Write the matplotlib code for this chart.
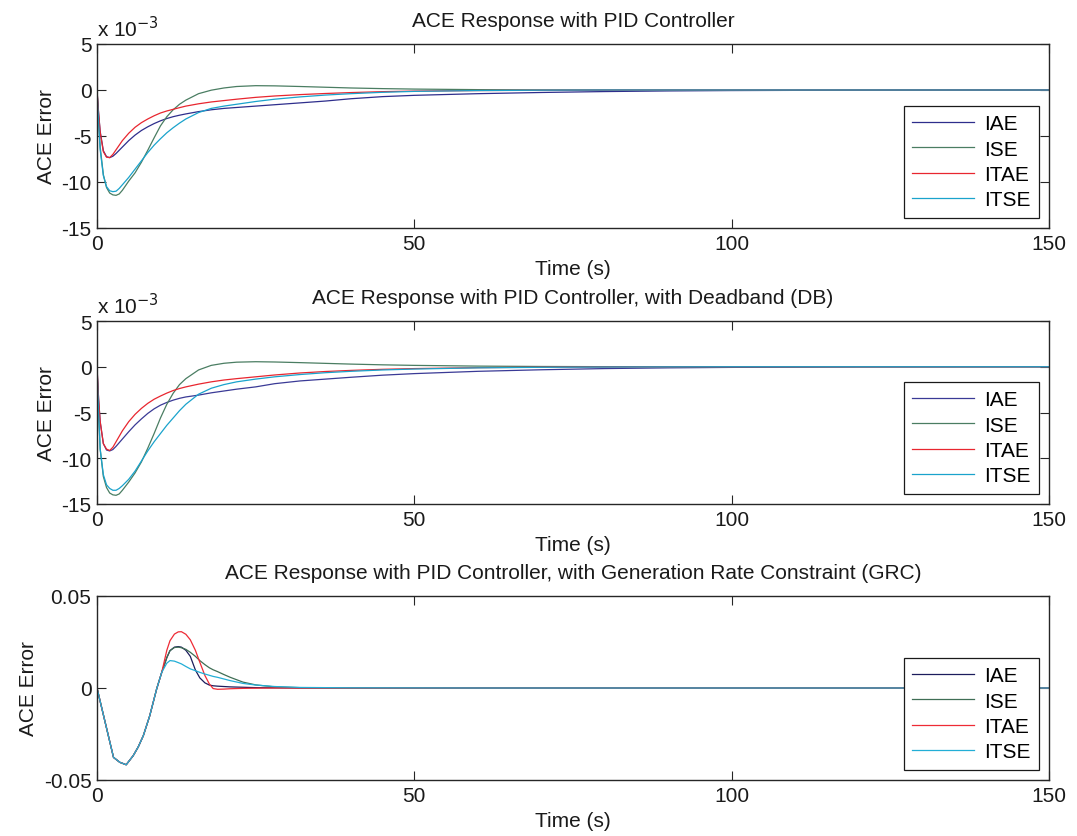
import matplotlib
matplotlib.use("Agg")
import matplotlib.pyplot as plt

plt.rcParams['font.family'] = ['Liberation Sans', 'DejaVu Sans']
plt.rcParams['font.size'] = 15

series_names = ["IAE", "ISE", "ITAE", "ITSE"]
x_ticks = [0, 50, 100, 150]

# ---- Panel 1: PID controller (values in units of 1e-3) ----
t_pid = [0, 0.25, 0.5, 1, 1.5, 2, 2.5, 3, 3.5, 4, 5, 6, 7, 8, 9, 10, 11, 12, 13, 14, 16, 18,
         20, 22, 25, 28, 32, 36, 40, 45, 50, 60, 70, 80, 90, 100, 120, 150]
pid_iae = [0, -2.5, -4.5, -6.6, -7.25, -7.35, -7.2, -6.9, -6.55, -6.2, -5.5, -4.9, -4.4, -4.0,
           -3.65, -3.35, -3.1, -2.9, -2.74, -2.6, -2.35, -2.15, -2.0, -1.9, -1.75, -1.6, -1.4,
           -1.2, -0.95, -0.72, -0.58, -0.4, -0.27, -0.17, -0.1, -0.06, -0.02, 0]
pid_ise = [0, -3.3, -6.2, -9.2, -10.6, -11.2, -11.4, -11.45, -11.3, -10.9, -9.9, -9.0, -7.85,
           -6.55, -5.2, -3.9, -2.9, -2.15, -1.55, -1.1, -0.4, -0.02, 0.22, 0.38, 0.47, 0.45,
           0.38, 0.3, 0.22, 0.15, 0.1, 0.04, 0.01, 0, 0, 0, 0, 0]
pid_itae = [0, -2.5, -4.6, -6.7, -7.3, -7.35, -7.0, -6.5, -6.0, -5.5, -4.7, -4.05, -3.55, -3.15,
            -2.8, -2.5, -2.28, -2.1, -1.92, -1.75, -1.5, -1.3, -1.15, -1.0, -0.8, -0.65, -0.5,
            -0.38, -0.28, -0.18, -0.12, -0.06, -0.03, -0.01, 0, 0, 0, 0]
pid_itse = [0, -3.5, -6.5, -9.3, -10.5, -10.95, -11.05, -11.0, -10.7, -10.3, -9.5, -8.6, -7.7,
            -6.8, -6.0, -5.3, -4.65, -4.1, -3.6, -3.15, -2.45, -2.0, -1.75, -1.55, -1.25, -1.0,
            -0.75, -0.55, -0.4, -0.25, -0.15, -0.06, -0.02, 0, 0, 0, 0, 0]

# ---- Panel 2: PID controller with deadband (values in units of 1e-3) ----
t_db = t_pid
db_iae = [0, -3.5, -6.0, -8.4, -9.1, -9.2, -9.05, -8.7, -8.3, -7.9, -7.1, -6.35, -5.7, -5.1,
          -4.6, -4.2, -3.9, -3.65, -3.45, -3.3, -3.1, -2.85, -2.65, -2.45, -2.2, -1.85, -1.55,
          -1.35, -1.15, -0.92, -0.75, -0.5, -0.33, -0.2, -0.12, -0.07, -0.02, 0]
db_ise = [0, -5.0, -9.0, -12.0, -13.2, -13.8, -14.0, -14.05, -13.9, -13.5, -12.6, -11.6, -10.4,
          -8.9, -7.3, -5.6, -4.1, -2.9, -1.95, -1.3, -0.35, 0.15, 0.38, 0.5, 0.55, 0.52, 0.45,
          0.37, 0.29, 0.21, 0.15, 0.07, 0.03, 0.01, 0, 0, 0, 0]
db_itae = [0, -3.5, -6.0, -8.4, -9.0, -9.15, -8.8, -8.2, -7.6, -7.0, -6.0, -5.2, -4.55, -4.0,
           -3.55, -3.2, -2.88, -2.6, -2.38, -2.2, -1.9, -1.65, -1.45, -1.3, -1.1, -0.9, -0.68,
           -0.52, -0.4, -0.28, -0.2, -0.1, -0.05, -0.02, 0, 0, 0, 0]
db_itse = [0, -5.0, -9.0, -11.8, -12.9, -13.3, -13.5, -13.5, -13.3, -13.0, -12.3, -11.4, -10.3,
           -9.2, -8.2, -7.3, -6.4, -5.6, -4.8, -4.1, -3.0, -2.35, -1.95, -1.65, -1.35, -1.1,
           -0.85, -0.65, -0.5, -0.35, -0.25, -0.12, -0.06, -0.03, -0.01, 0, 0, 0]

# ---- Panel 3: PID controller with generation rate constraint ----
t_grc = [0, 1, 2, 2.6, 3.6, 4.6, 5.7, 6.5, 7.3, 8.3, 9.4, 10.2, 11, 11.5, 12.2, 12.8, 13.3,
         14, 14.7, 15.5, 16.2, 17, 17.7, 18.3, 19, 20, 21, 23, 25, 28, 32, 40, 60, 150]
grc_iae = [0, -0.0145, -0.029, -0.0377, -0.0404, -0.0417, -0.0368, -0.032, -0.0259, -0.0152,
           -0.0005, 0.0085, 0.0165, 0.0203, 0.0222, 0.0225, 0.0222, 0.0205, 0.0172, 0.0098,
           0.0055, 0.0028, 0.0016, 0.0012, 0.001, 0.0008, 0.0006, 0.0004, 0.0002, 0.0001,
           0, 0, 0, 0]
grc_ise = [0, -0.0145, -0.029, -0.0377, -0.0404, -0.0417, -0.0368, -0.032, -0.0259, -0.0152,
           -0.0005, 0.0085, 0.0165, 0.0203, 0.022, 0.0222, 0.0219, 0.021, 0.0194, 0.0172,
           0.0149, 0.0127, 0.011, 0.0099, 0.0089, 0.0073, 0.0058, 0.0032, 0.0017, 0.0006,
           0.0002, 0, 0, 0]
grc_itae = [0, -0.0145, -0.029, -0.0377, -0.0404, -0.0417, -0.0368, -0.032, -0.0259, -0.0152,
            -0.0005, 0.0085, 0.0205, 0.0257, 0.0293, 0.0305, 0.0306, 0.0292, 0.0262, 0.0205,
            0.014, 0.0068, 0.0022, -0.0003, -0.0007, -0.0006, -0.0004, -0.0002, -0.0001, 0,
            0, 0, 0, 0]
grc_itse = [0, -0.0145, -0.029, -0.0377, -0.0404, -0.0417, -0.0368, -0.032, -0.0259, -0.0152,
            -0.0005, 0.0085, 0.0135, 0.0149, 0.0146, 0.0138, 0.0131, 0.0117, 0.0104, 0.0094,
            0.0085, 0.0076, 0.0069, 0.0063, 0.0058, 0.0049, 0.004, 0.0025, 0.0016, 0.0008,
            0.0003, 0.0001, 0, 0]

panels = [
    dict(title="ACE Response with PID Controller", t=t_pid,
         data=[pid_iae, pid_ise, pid_itae, pid_itse],
         colors=["#2e2e8c", "#4a7d62", "#e8262f", "#1aa3cc"],
         ylim=(-15, 5), yticks=[-15, -10, -5, 0, 5], ylabels=["-15", "-10", "-5", "0", "5"],
         scale_text=True),
    dict(title="ACE Response with PID Controller, with Deadband (DB)", t=t_db,
         data=[db_iae, db_ise, db_itae, db_itse],
         colors=["#3a3a96", "#4a7d62", "#e8262f", "#1aa3cc"],
         ylim=(-15, 5), yticks=[-15, -10, -5, 0, 5], ylabels=["-15", "-10", "-5", "0", "5"],
         scale_text=True),
    dict(title="ACE Response with PID Controller, with Generation Rate Constraint (GRC)",
         t=t_grc, data=[grc_iae, grc_ise, grc_itae, grc_itse],
         colors=["#1c1c5c", "#3f6e55", "#ee2b35", "#22aed6"],
         ylim=(-0.05, 0.05), yticks=[-0.05, 0, 0.05], ylabels=["-0.05", "0", "0.05"],
         scale_text=False),
]

fig = plt.figure(figsize=(10.77, 8.37), dpi=100)
W, H = 1077, 837
boxes = [(45, 229), (322, 505), (597, 781)]
left_px, right_px = 97, 1049

for p, (top, bot) in zip(panels, boxes):
    ax = fig.add_axes([left_px / W, 1 - bot / H, (right_px - left_px) / W, (bot - top) / H])
    for name, vals, col in zip(series_names, p["data"], p["colors"]):
        ax.plot(p["t"], vals, color=col, lw=0.9, label=name)
    ax.set_xlim(0, 150)
    ax.set_ylim(*p["ylim"])
    ax.set_xticks(x_ticks)
    ax.set_xticklabels([str(v) for v in x_ticks])
    ax.set_yticks(p["yticks"])
    ax.set_yticklabels(p["ylabels"])
    ax.tick_params(direction="in", length=6.5, width=0.8, top=True, right=True,
                   colors="#262626", labelcolor="#1a1a1a", pad=4)
    for s in ax.spines.values():
        s.set_color("#262626")
        s.set_linewidth(1.0)
    ax.set_title(p["title"], fontsize=15, pad=13, color="#1a1a1a")
    ax.set_xlabel("Time (s)", fontsize=15, labelpad=5, color="#1a1a1a")
    ax.set_ylabel("ACE Error", fontsize=15, color="#1a1a1a")
    if p["scale_text"]:
        ax.text(0.0, 1.02, r"x 10$^{-3}$", transform=ax.transAxes, fontsize=15,
                ha="left", va="bottom", color="#1a1a1a")
    leg = ax.legend(loc="lower right", frameon=True, fancybox=False, framealpha=1,
                    edgecolor="#1a1a1a", fontsize=15, handlelength=3.0, handletextpad=0.45,
                    labelspacing=0.3, borderpad=0.4, borderaxespad=0.5)
    leg.get_frame().set_linewidth(0.9)

fig.savefig("out.png", dpi=100)
